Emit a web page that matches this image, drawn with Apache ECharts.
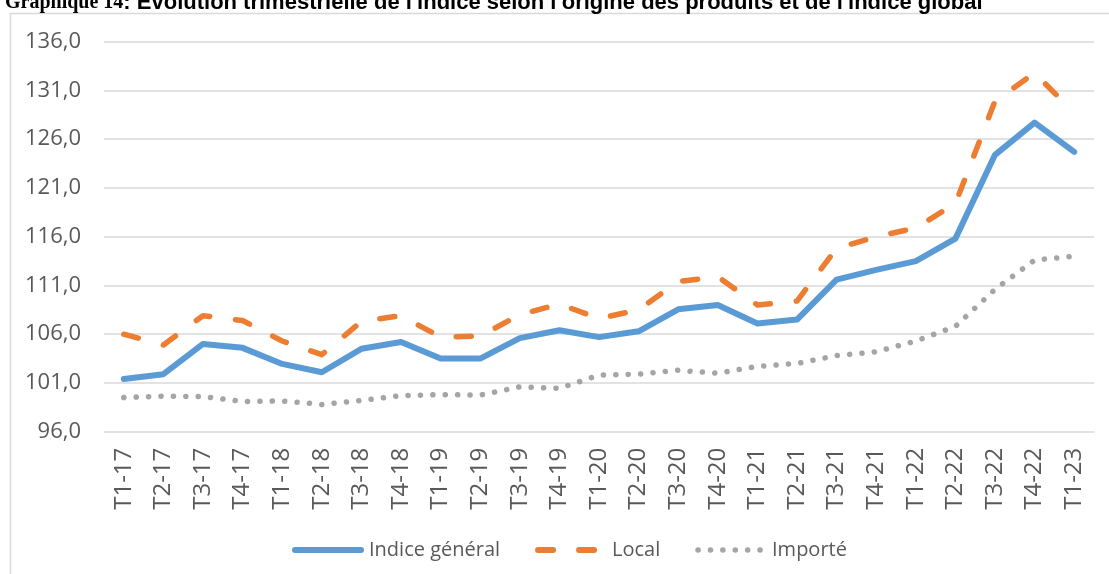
<!DOCTYPE html>
<html>
<head>
<meta charset="utf-8">
<script src="https://cdn.jsdelivr.net/npm/echarts@6/dist/echarts.min.js"></script>
<style>
html,body{margin:0;padding:0;background:#fff;}
#c{width:1109px;height:574px;}
</style>
</head>
<body>
<div id="c"></div>
<script>
const categories = ['T1-17','T2-17','T3-17','T4-17','T1-18','T2-18','T3-18','T4-18','T1-19','T2-19','T3-19','T4-19','T1-20','T2-20','T3-20','T4-20','T1-21','T2-21','T3-21','T4-21','T1-22','T2-22','T3-22','T4-22','T1-23'];
const indiceGeneral = [101.4,101.9,105.0,104.6,102.95,102.1,104.5,105.2,103.5,103.5,105.6,106.4,105.7,106.3,108.55,109.0,107.1,107.5,111.6,112.6,113.5,115.8,124.4,127.7,124.7];
const local = [106.0,104.9,107.9,107.4,105.3,103.9,107.3,107.9,105.7,105.8,108.0,109.1,107.6,108.5,111.4,111.9,109.0,109.4,114.8,116.0,116.9,119.4,129.9,132.8,128.7];
const importe = [99.5,99.65,99.6,99.1,99.15,98.8,99.2,99.7,99.8,99.75,100.6,100.45,101.8,101.9,102.3,102.0,102.7,103.0,103.8,104.2,105.3,106.8,110.6,113.6,114.0];
const seriesNames = ['Indice général','Local','Importé'];
const yMin = 96, yMax = 136, yStep = 5;

const chart = echarts.init(document.getElementById('c'), null, {renderer:'canvas'});
const fmt = v => v.toFixed(1).replace('.', ',');
const colors = ['#5B9BD5','#ED7D31','#A5A5A5'];
chart.setOption({
  animation:false,
  backgroundColor:'#fff',
  graphic:[{
    type:'rect', silent:true, z:-1,
    shape:{x:10.5, y:13.5, width:1200, height:700},
    style:{fill:'none', stroke:'#D9D9D9', lineWidth:1.5}
  }],
  title:{
    left:0, top:-13,
    text:'{a|Graphique 14}{b|: Evolution trimestrielle de l\'indice selon l\'origine des produits et de l\'indice global}',
    textStyle:{
      rich:{
        a:{fontFamily:'Liberation Serif', fontWeight:'bold', fontSize:20, color:'#000'},
        b:{fontFamily:'Liberation Sans', fontWeight:'bold', fontSize:22, color:'#000'}
      }
    }
  },
  grid:{left:104, right:15, top:41.7, bottom:142.3, containLabel:false},
  xAxis:{
    type:'category', data:categories, boundaryGap:true,
    axisLine:{show:false}, axisTick:{show:false},
    axisLabel:{rotate:90, margin:16, color:'#595959', fontFamily:'Open Sans', fontSize:24, interval:0}
  },
  yAxis:{
    type:'value', min:yMin, max:yMax, interval:yStep,
    axisLine:{show:false}, axisTick:{show:false},
    splitLine:{lineStyle:{color:'#D9D9D9', width:1.5}},
    axisLabel:{formatter:fmt, margin:23, color:'#595959', fontFamily:'Open Sans', fontSize:22}
  },
  legend:{
    left:287, top:535,
    itemWidth:66, itemHeight:14, itemGap:35,
    textStyle:{color:'#595959', fontFamily:'Open Sans', fontSize:20, padding:[0,0,0,3]},
    data:[
      {name:seriesNames[0], itemStyle:{opacity:0}, lineStyle:{width:6, color:colors[0], cap:'round'}},
      {name:seriesNames[1], itemStyle:{opacity:0}, lineStyle:{width:6, color:colors[1], type:[15,26], cap:'round'}},
      {name:seriesNames[2], itemStyle:{opacity:0}, lineStyle:{width:5.5, color:colors[2], type:[0.1,12.3], cap:'round'}}
    ]
  },
  series:[
    {name:seriesNames[0], type:'line', data:indiceGeneral, symbol:'none',
     lineStyle:{color:colors[0], width:6, cap:'round', join:'round'}, itemStyle:{color:colors[0]}},
    {name:seriesNames[1], type:'line', data:local, symbol:'none',
     lineStyle:{color:colors[1], width:5.5, type:[15,26], cap:'round', join:'round'}, itemStyle:{color:colors[1]}},
    {name:seriesNames[2], type:'line', data:importe, symbol:'none',
     lineStyle:{color:colors[2], width:5.5, type:[0.1,12.3], cap:'round', join:'round'}, itemStyle:{color:colors[2]}}
  ]
});
</script>
</body>
</html>
